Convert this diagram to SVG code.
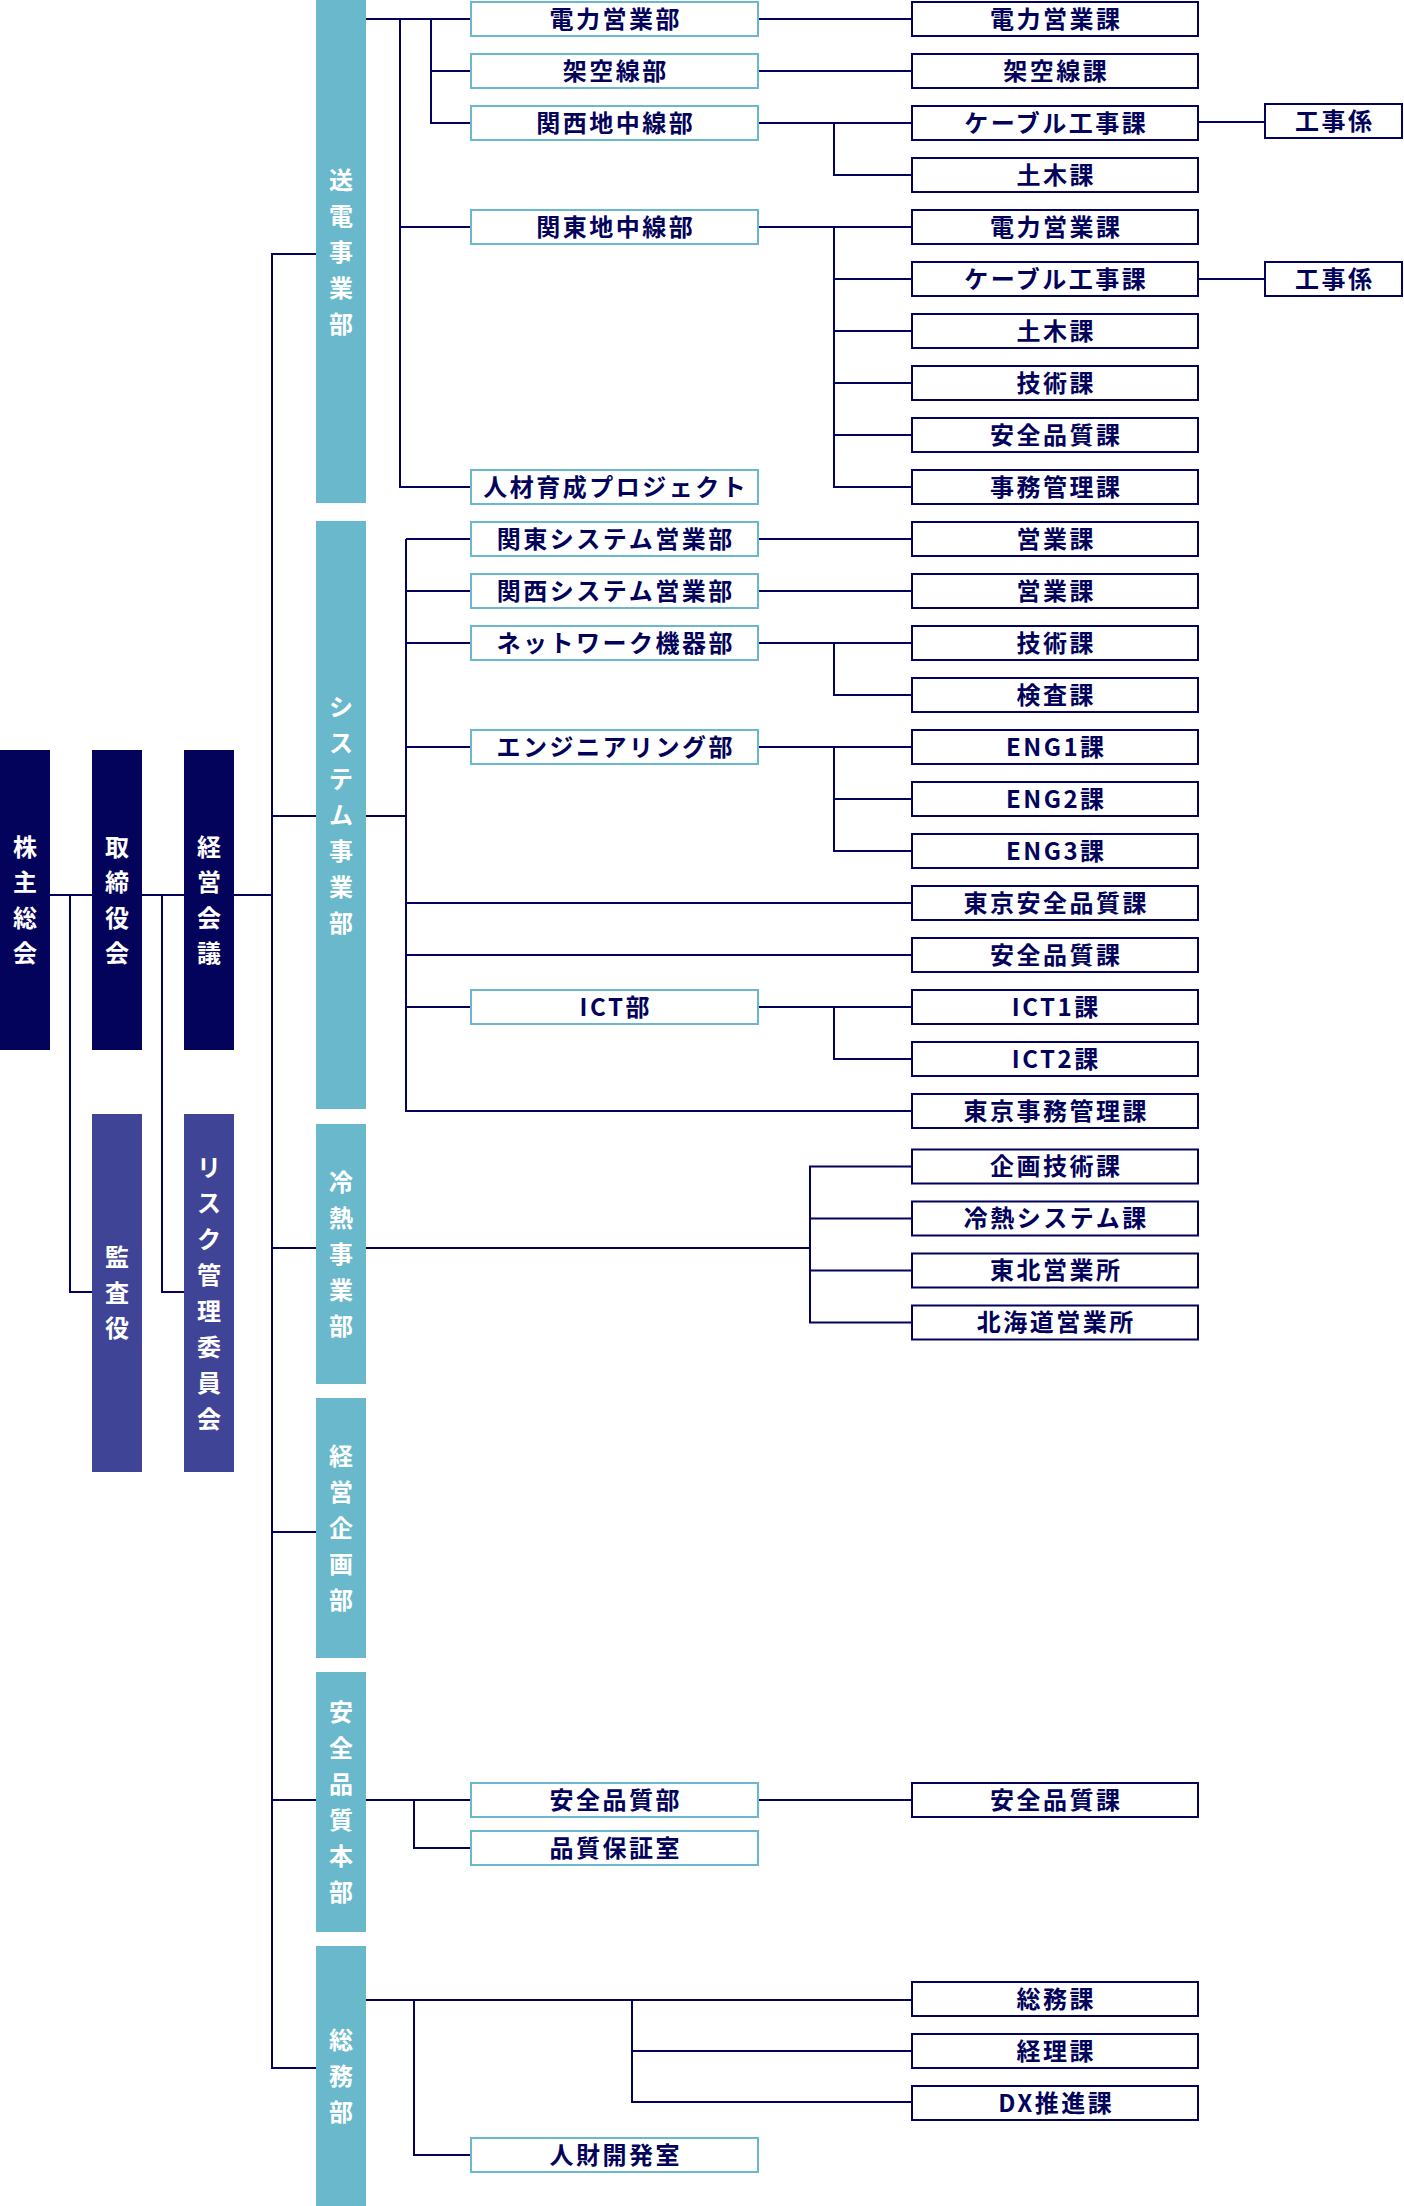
<svg xmlns="http://www.w3.org/2000/svg" width="1404" height="2206" viewBox="0 0 1404 2206">
<style>
.ln{stroke:#03035b;stroke-width:2;fill:none}
.bu{fill:#fff;stroke:#69b8cb;stroke-width:2}
.ka{fill:#fff;stroke:#03035b;stroke-width:2}
.tl{fill:#69b8cb}
.nv{fill:#03035b}
.pp{fill:#404496}
.bt{font-family:"Noto Sans CJK JP","Noto Sans",sans-serif;font-weight:700;font-size:24px;fill:#03035b;letter-spacing:2.5px;text-anchor:middle}
.vt{font-family:"Noto Sans CJK JP","Noto Sans",sans-serif;font-weight:700;font-size:24px;fill:#fff;text-anchor:middle}
</style>
<g id="connectors">
<path class="ln" d="M50 895H92M142 895H184M234 895H272M70 895V1292H92M162 895V1292H184"/>
<path class="ln" d="M316 254H272V2068H316M272 816H316M272 1248H316M272 1532H316M272 1800H316"/>
<path class="ln" d="M366 19H470M400 19V487H470M400 227H470M431 19V123H470M431 71H470M759 19H911M759 71H911M759 123H911M759 227H911M834 123V175H911M834 227V487H911M834 279H911M834 331H911M834 383H911M834 435H911M1199 122H1264M1199 279H1264"/>
<path class="ln" d="M366 816H406M406 539V1111H911M406 539H470M406 591H470M406 643H470M406 747H470M406 1007H470M406 903H911M406 955H911M759 539H911M759 591H911M759 643H911M759 747H911M759 1007H911M834 643V695H911M834 747V851H911M834 799H911M834 1007V1059H911"/>
<path class="ln" d="M366 1248H810M911 1166.5H810V1322.5H911M810 1218.5H911M810 1270.5H911"/>
<path class="ln" d="M366 1800H470M414 1800V1848H470M759 1800H911"/>
<path class="ln" d="M366 2000H911M414 2000V2155H470M632 2000V2102H911M632 2051H911"/>
</g>
<g id="kabunushi"><rect class="nv" x="0" y="750" width="50" height="300"/><text class="vt"><tspan x="25" y="855.5">株</tspan><tspan x="25" y="891">主</tspan><tspan x="25" y="926.5">総</tspan><tspan x="25" y="962">会</tspan></text></g>
<g id="torishimariyaku"><rect class="nv" x="92" y="750" width="50" height="300"/><text class="vt"><tspan x="117" y="855.5">取</tspan><tspan x="117" y="891">締</tspan><tspan x="117" y="926.5">役</tspan><tspan x="117" y="962">会</tspan></text></g>
<g id="keiei-kaigi"><rect class="nv" x="184" y="750" width="50" height="300"/><text class="vt"><tspan x="209" y="855.5">経</tspan><tspan x="209" y="891">営</tspan><tspan x="209" y="926.5">会</tspan><tspan x="209" y="962">議</tspan></text></g>
<g id="kansayaku"><rect class="pp" x="92" y="1114" width="50" height="358"/><text class="vt"><tspan x="117" y="1266">監</tspan><tspan x="117" y="1301.5">査</tspan><tspan x="117" y="1337">役</tspan></text></g>
<g id="risk"><rect class="pp" x="184" y="1114" width="50" height="358"/><text class="vt"><tspan x="209" y="1176">リ</tspan><tspan x="209" y="1212">ス</tspan><tspan x="209" y="1248">ク</tspan><tspan x="209" y="1284">管</tspan><tspan x="209" y="1320">理</tspan><tspan x="209" y="1356">委</tspan><tspan x="209" y="1392">員</tspan><tspan x="209" y="1428">会</tspan></text></g>
<g id="soden"><rect class="tl" x="316" y="0" width="50" height="503"/><text class="vt"><tspan x="341" y="188.5">送</tspan><tspan x="341" y="224.5">電</tspan><tspan x="341" y="260.5">事</tspan><tspan x="341" y="296.5">業</tspan><tspan x="341" y="332.5">部</tspan></text></g>
<g id="system"><rect class="tl" x="316" y="521" width="50" height="588"/><text class="vt"><tspan x="341" y="715.5">シ</tspan><tspan x="341" y="751.5">ス</tspan><tspan x="341" y="787.5">テ</tspan><tspan x="341" y="823.5">ム</tspan><tspan x="341" y="859.5">事</tspan><tspan x="341" y="895.5">業</tspan><tspan x="341" y="931.5">部</tspan></text></g>
<g id="reinetsu"><rect class="tl" x="316" y="1124" width="50" height="260"/><text class="vt"><tspan x="341" y="1190.5">冷</tspan><tspan x="341" y="1226.5">熱</tspan><tspan x="341" y="1262.5">事</tspan><tspan x="341" y="1298.5">業</tspan><tspan x="341" y="1334.5">部</tspan></text></g>
<g id="keiei-kikaku"><rect class="tl" x="316" y="1398" width="50" height="260"/><text class="vt"><tspan x="341" y="1464.5">経</tspan><tspan x="341" y="1500.5">営</tspan><tspan x="341" y="1536.5">企</tspan><tspan x="341" y="1572.5">画</tspan><tspan x="341" y="1608.5">部</tspan></text></g>
<g id="anzen-honbu"><rect class="tl" x="316" y="1672" width="50" height="260"/><text class="vt"><tspan x="341" y="1720.5">安</tspan><tspan x="341" y="1756.5">全</tspan><tspan x="341" y="1792.5">品</tspan><tspan x="341" y="1828.5">質</tspan><tspan x="341" y="1864.5">本</tspan><tspan x="341" y="1900.5">部</tspan></text></g>
<g id="somu"><rect class="tl" x="316" y="1946" width="50" height="260"/><text class="vt"><tspan x="341" y="2048.5">総</tspan><tspan x="341" y="2084.5">務</tspan><tspan x="341" y="2120.5">部</tspan></text></g>
<g id="b-denryoku"><rect class="bu" x="471" y="2" width="287" height="34"/><text class="bt" x="615.75" y="27.5">電力営業部</text></g>
<g id="b-kaku"><rect class="bu" x="471" y="54" width="287" height="34"/><text class="bt" x="615.75" y="79.5">架空線部</text></g>
<g id="b-kansai-chichu"><rect class="bu" x="471" y="106" width="287" height="34"/><text class="bt" x="615.75" y="131.5">関西地中線部</text></g>
<g id="b-kanto-chichu"><rect class="bu" x="471" y="210" width="287" height="34"/><text class="bt" x="615.75" y="235.5">関東地中線部</text></g>
<g id="b-jinzai-pj"><rect class="bu" x="471" y="470" width="287" height="34"/><text class="bt" x="615.75" y="495.5">人材育成プロジェクト</text></g>
<g id="k-denryoku1"><rect class="ka" x="912" y="2" width="286" height="34"/><text class="bt" x="1056.25" y="27.5">電力営業課</text></g>
<g id="k-kaku"><rect class="ka" x="912" y="54" width="286" height="34"/><text class="bt" x="1056.25" y="79.5">架空線課</text></g>
<g id="k-cable1"><rect class="ka" x="912" y="106" width="286" height="34"/><text class="bt" x="1056.25" y="131.5">ケーブル工事課</text></g>
<g id="k-doboku1"><rect class="ka" x="912" y="158" width="286" height="34"/><text class="bt" x="1056.25" y="183.5">土木課</text></g>
<g id="k-denryoku2"><rect class="ka" x="912" y="210" width="286" height="34"/><text class="bt" x="1056.25" y="235.5">電力営業課</text></g>
<g id="k-cable2"><rect class="ka" x="912" y="262" width="286" height="34"/><text class="bt" x="1056.25" y="287.5">ケーブル工事課</text></g>
<g id="k-doboku2"><rect class="ka" x="912" y="314" width="286" height="34"/><text class="bt" x="1056.25" y="339.5">土木課</text></g>
<g id="k-gijutsu1"><rect class="ka" x="912" y="366" width="286" height="34"/><text class="bt" x="1056.25" y="391.5">技術課</text></g>
<g id="k-anzen1"><rect class="ka" x="912" y="418" width="286" height="34"/><text class="bt" x="1056.25" y="443.5">安全品質課</text></g>
<g id="k-jimu"><rect class="ka" x="912" y="470" width="286" height="34"/><text class="bt" x="1056.25" y="495.5">事務管理課</text></g>
<g id="g-koji1"><rect class="ka" x="1265" y="104" width="137" height="34"/><text class="bt" x="1334.75" y="129.5">工事係</text></g>
<g id="g-koji2"><rect class="ka" x="1265" y="262" width="137" height="34"/><text class="bt" x="1334.75" y="287.5">工事係</text></g>
<g id="b-kanto-sys"><rect class="bu" x="471" y="522" width="287" height="34"/><text class="bt" x="615.75" y="547.5">関東システム営業部</text></g>
<g id="b-kansai-sys"><rect class="bu" x="471" y="574" width="287" height="34"/><text class="bt" x="615.75" y="599.5">関西システム営業部</text></g>
<g id="b-network"><rect class="bu" x="471" y="626" width="287" height="34"/><text class="bt" x="615.75" y="651.5">ネットワーク機器部</text></g>
<g id="b-eng"><rect class="bu" x="471" y="730" width="287" height="34"/><text class="bt" x="615.75" y="755.5">エンジニアリング部</text></g>
<g id="b-ict"><rect class="bu" x="471" y="990" width="287" height="34"/><text class="bt" x="615.75" y="1015.5">ICT部</text></g>
<g id="k-eigyo1"><rect class="ka" x="912" y="522" width="286" height="34"/><text class="bt" x="1056.25" y="547.5">営業課</text></g>
<g id="k-eigyo2"><rect class="ka" x="912" y="574" width="286" height="34"/><text class="bt" x="1056.25" y="599.5">営業課</text></g>
<g id="k-gijutsu2"><rect class="ka" x="912" y="626" width="286" height="34"/><text class="bt" x="1056.25" y="651.5">技術課</text></g>
<g id="k-kensa"><rect class="ka" x="912" y="678" width="286" height="34"/><text class="bt" x="1056.25" y="703.5">検査課</text></g>
<g id="k-eng1"><rect class="ka" x="912" y="730" width="286" height="34"/><text class="bt" x="1056.25" y="755.5">ENG1課</text></g>
<g id="k-eng2"><rect class="ka" x="912" y="782" width="286" height="34"/><text class="bt" x="1056.25" y="807.5">ENG2課</text></g>
<g id="k-eng3"><rect class="ka" x="912" y="834" width="286" height="34"/><text class="bt" x="1056.25" y="859.5">ENG3課</text></g>
<g id="k-tokyo-anzen"><rect class="ka" x="912" y="886" width="286" height="34"/><text class="bt" x="1056.25" y="911.5">東京安全品質課</text></g>
<g id="k-anzen2"><rect class="ka" x="912" y="938" width="286" height="34"/><text class="bt" x="1056.25" y="963.5">安全品質課</text></g>
<g id="k-ict1"><rect class="ka" x="912" y="990" width="286" height="34"/><text class="bt" x="1056.25" y="1015.5">ICT1課</text></g>
<g id="k-ict2"><rect class="ka" x="912" y="1042" width="286" height="34"/><text class="bt" x="1056.25" y="1067.5">ICT2課</text></g>
<g id="k-tokyo-jimu"><rect class="ka" x="912" y="1094" width="286" height="34"/><text class="bt" x="1056.25" y="1119.5">東京事務管理課</text></g>
<g id="k-kikaku"><rect class="ka" x="912" y="1149.5" width="286" height="34"/><text class="bt" x="1056.25" y="1175">企画技術課</text></g>
<g id="k-reinetsu-sys"><rect class="ka" x="912" y="1201.5" width="286" height="34"/><text class="bt" x="1056.25" y="1227">冷熱システム課</text></g>
<g id="k-tohoku"><rect class="ka" x="912" y="1253.5" width="286" height="34"/><text class="bt" x="1056.25" y="1279">東北営業所</text></g>
<g id="k-hokkaido"><rect class="ka" x="912" y="1305.5" width="286" height="34"/><text class="bt" x="1056.25" y="1331">北海道営業所</text></g>
<g id="b-anzen"><rect class="bu" x="471" y="1783" width="287" height="34"/><text class="bt" x="615.75" y="1808.5">安全品質部</text></g>
<g id="b-hinshitsu"><rect class="bu" x="471" y="1831" width="287" height="34"/><text class="bt" x="615.75" y="1856.5">品質保証室</text></g>
<g id="k-anzen3"><rect class="ka" x="912" y="1783" width="286" height="34"/><text class="bt" x="1056.25" y="1808.5">安全品質課</text></g>
<g id="k-somu"><rect class="ka" x="912" y="1982" width="286" height="34"/><text class="bt" x="1056.25" y="2007.5">総務課</text></g>
<g id="k-keiri"><rect class="ka" x="912" y="2034" width="286" height="34"/><text class="bt" x="1056.25" y="2059.5">経理課</text></g>
<g id="k-dx"><rect class="ka" x="912" y="2086" width="286" height="34"/><text class="bt" x="1056.25" y="2111.5">DX推進課</text></g>
<g id="b-jinzai-kaihatsu"><rect class="bu" x="471" y="2138" width="287" height="34"/><text class="bt" x="615.75" y="2163.5">人財開発室</text></g>
</svg>
